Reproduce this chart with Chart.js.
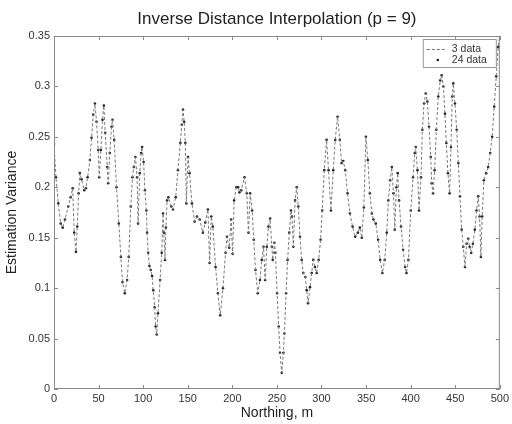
<!DOCTYPE html>
<html>
<head>
<meta charset="utf-8">
<script src="https://cdn.jsdelivr.net/npm/chart.js@4/dist/chart.umd.min.js"></script>
<style>
  html, body { margin: 0; padding: 0; background: #fff; }
  #wrap { width: 512px; height: 424px; }
</style>
</head>
<body>
<div id="wrap"><canvas id="chart" width="512" height="424"></canvas></div>
<script>
// both series overlap on one curve
const northing = [
  0, 2.2, 4.8, 7.5, 9.7, 12.3, 16, 18.6, 20.9, 22.7, 24.6, 26.1, 27.6, 29, 30.9, 33.9, 35.8, 37.7,
  40.3, 42.1, 44, 45.9, 47.7, 49.6, 50.7, 52.6, 54.4, 55.9, 57.4, 59.7, 60.8, 62.6, 64.5, 65.6,
  67.5, 70.1, 72.7, 75, 76.8, 79.4, 82, 83.8, 86.1, 88, 89.5, 91.3, 93.2, 94.3, 96.2, 97.7, 98.8,
  100.5, 102, 103.6, 104.4, 105.6, 107, 108.5, 110, 111.3, 112.9, 114, 115.2, 116.6, 119, 120.8,
  122.3, 123.3, 124.5, 125.5, 126.8, 128.3, 131.6, 133.5, 136.5, 139, 141.7, 143.3, 144.7, 146,
  147.3, 148.4, 150.3, 152, 154.7, 157.7, 160.4, 163.4, 167, 169.6, 172.6, 174.5, 176.4, 178.2,
  181.2, 183.8, 186.4, 189.5, 192.4, 194, 196.5, 198.7, 200.3, 202, 204.5, 206.5, 208, 210, 213.6,
  216.2, 218.1, 220, 222.2, 224, 226, 228.5, 231, 233, 235, 236.8, 238.7, 240.5, 242.4, 244.3,
  245.3, 247.2, 248.3, 250.2, 252, 253.5, 255.4, 257.3, 258.4, 260.3, 262, 263.9, 265.8, 266.9,
  268.5, 270.4, 272.2, 274, 275.9, 277.8, 279.6, 281.9, 283.4, 284.9, 287.1, 289, 290.8, 292.7,
  294.6, 296.8, 299, 300.8, 303.1, 305.7, 307.9, 310.6, 313.2, 315.4, 318, 320.6, 322.5, 324.4,
  326.6, 329.2, 331.9, 334.9, 337.8, 340.8, 343, 345.2, 347.5, 349.8, 352, 354.2, 356.5, 358.3,
  360.9, 363.5, 365.8, 368.3, 370.9, 373.2, 375, 377, 378.9, 380.7, 382.2, 384, 385.5, 387, 389.2,
  391.5, 393.8, 395.3, 397.5, 400.1, 402.7, 404.6, 405.7, 407.6, 409.4, 411.6, 413.1, 415, 416.9,
  418.7, 420.6, 422.5, 423.6, 425.1, 426.9, 428.8, 431, 433.2, 434.8, 436.7, 438.5, 440, 441.8,
  443.7, 445.2, 446.7, 447.8, 449.7, 451.6, 453.5, 455.3, 457.2, 459, 460.9, 462.7, 464.6, 466.1,
  467.9, 469.8, 472, 473.9, 475.8, 477.3, 478.8, 480.2, 482.1, 484.7, 486.9, 489.2, 491.4, 493.7,
  496, 498.1, 500
];
const variance = [
  0.243, 0.21, 0.184, 0.164, 0.16, 0.168, 0.181, 0.19, 0.199, 0.155, 0.136, 0.161, 0.194, 0.214, 0.208, 0.197, 0.199, 0.21,
  0.227, 0.249, 0.272, 0.283, 0.265, 0.237, 0.21, 0.237, 0.267, 0.281, 0.254, 0.22, 0.204, 0.234, 0.26, 0.267,
  0.247, 0.2, 0.164, 0.131, 0.106, 0.095, 0.108, 0.131, 0.181, 0.21, 0.22, 0.23, 0.21, 0.164, 0.214, 0.234, 0.24,
  0.225, 0.197, 0.177, 0.155, 0.135, 0.122, 0.118, 0.112, 0.098, 0.081, 0.062, 0.054, 0.075, 0.108, 0.135,
  0.174, 0.155, 0.128, 0.16, 0.187, 0.19, 0.181, 0.178, 0.19, 0.217, 0.244, 0.262, 0.277, 0.265,
  0.244, 0.184, 0.23, 0.214, 0.184, 0.166, 0.171, 0.168, 0.155, 0.165, 0.178, 0.125, 0.171, 0.161,
  0.121, 0.095, 0.073, 0.1, 0.135, 0.151, 0.14, 0.168, 0.134, 0.187, 0.2, 0.2, 0.195, 0.197, 0.21,
  0.194, 0.155, 0.194, 0.177, 0.148, 0.118, 0.095, 0.108, 0.128, 0.141, 0.108, 0.141, 0.161, 0.169, 0.141,
  0.128, 0.145, 0.135, 0.095, 0.062, 0.036, 0.016, 0.036, 0.055, 0.095, 0.128, 0.155, 0.177, 0.171,
  0.141, 0.187, 0.2, 0.181, 0.151, 0.128, 0.115, 0.111, 0.098, 0.085, 0.101, 0.115, 0.128, 0.121,
  0.115, 0.128, 0.148, 0.177, 0.217, 0.247, 0.217, 0.177, 0.217, 0.247, 0.27, 0.247, 0.224, 0.226,
  0.217, 0.194, 0.174, 0.161, 0.151, 0.155, 0.16, 0.15, 0.18, 0.25, 0.227, 0.194, 0.174, 0.168,
  0.164, 0.148, 0.128, 0.115, 0.128, 0.155, 0.187, 0.207, 0.22, 0.194, 0.158, 0.2, 0.214, 0.187, 0.161,
  0.138, 0.121, 0.115, 0.128, 0.177, 0.21, 0.234, 0.24, 0.217, 0.177, 0.21, 0.257, 0.283, 0.293,
  0.285, 0.26, 0.23, 0.204, 0.194, 0.217, 0.257, 0.29, 0.306, 0.311, 0.3, 0.273, 0.244, 0.214,
  0.194, 0.24, 0.29, 0.303, 0.283, 0.257, 0.224, 0.191, 0.158, 0.141, 0.121, 0.144, 0.149, 0.141,
  0.135, 0.144, 0.158, 0.177, 0.191, 0.171, 0.131, 0.171, 0.207, 0.214, 0.22, 0.234, 0.25, 0.28,
  0.31, 0.339, 0.35
];
const xTicks = [0, 50, 100, 150, 200, 250, 300, 350, 400, 450, 500];
const yTicks = [0, 0.05, 0.1, 0.15, 0.2, 0.25, 0.3, 0.35];
const seriesNames = ["3 data", "24 data"];

const points = northing.map((x, i) => ({ x: x, y: variance[i] }));
const FONT = "'Liberation Sans', Arial, sans-serif";
const AXIS = "#8a8a8a";

// MATLAB style box, inward ticks and legend
const frame = {
    id: "frame",
    afterDraw(chart) {
        const c = chart.ctx;
        const a = chart.chartArea;
        const xs = chart.scales.x, ys = chart.scales.y;
        c.save();
        c.strokeStyle = AXIS;
        c.lineWidth = 1;
        c.strokeRect(a.left + 0.5, a.top + 0.5, a.right - a.left - 1, a.bottom - a.top - 1);
        c.beginPath();
        xTicks.forEach(v => {
            const p = Math.round(xs.getPixelForValue(v)) + 0.5;
            c.moveTo(p, a.bottom); c.lineTo(p, a.bottom - 4);
            c.moveTo(p, a.top); c.lineTo(p, a.top + 4);
        });
        yTicks.forEach(v => {
            const p = Math.round(ys.getPixelForValue(v)) + 0.5;
            c.moveTo(a.left, p); c.lineTo(a.left + 4, p);
            c.moveTo(a.right, p); c.lineTo(a.right - 4, p);
        });
        c.stroke();

        // legend box
        const lx = a.right - 77, ly = a.top + 3, lw = 73, lh = 28;
        c.fillStyle = "#fff";
        c.fillRect(lx, ly, lw, lh);
        c.strokeStyle = "#999";
        c.strokeRect(lx + 0.5, ly + 0.5, lw, lh);
        c.strokeStyle = "#777";
        c.setLineDash([3, 2]);
        c.beginPath();
        c.moveTo(lx + 4, ly + 10.5); c.lineTo(lx + 24, ly + 10.5);
        c.stroke();
        c.setLineDash([]);
        c.fillStyle = "#222";
        c.beginPath();
        c.arc(lx + 15, ly + 21, 1.3, 0, Math.PI * 2);
        c.fill();
        c.font = "10.5px " + FONT;
        c.textBaseline = "middle";
        c.fillStyle = "#333";
        c.fillText(seriesNames[0], lx + 29, ly + 10);
        c.fillText(seriesNames[1], lx + 29, ly + 21);
        c.restore();
    }
};

new Chart(document.getElementById("chart"), {
    type: "scatter",
    data: {
        datasets: [
            {
                label: seriesNames[0],
                data: points,
                showLine: true,
                borderColor: "#7a7a7a",
                borderWidth: 1,
                borderDash: [3, 2],
                pointRadius: 0,
                tension: 0
            },
            {
                label: seriesNames[1],
                data: points,
                showLine: false,
                pointRadius: 1.3,
                pointBackgroundColor: "#222",
                pointBorderWidth: 0
            }
        ]
    },
    options: {
        responsive: false,
        animation: false,
        layout: { padding: { left: 0, right: 11, top: 0, bottom: 0 } },
        plugins: {
            legend: { display: false },
            tooltip: { enabled: false },
            title: {
                display: true,
                fullSize: false,
                text: "Inverse Distance Interpolation (p = 9)",
                color: "#222",
                font: { family: FONT, size: 17, weight: "normal" },
                padding: { top: 9, bottom: 6.6 }
            }
        },
        scales: {
            x: {
                type: "linear",
                min: 0, max: 500,
                afterBuildTicks: s => { s.ticks = xTicks.map(v => ({ value: v })); },
                afterFit: s => { s.height = 35; },
                grid: { drawOnChartArea: false, drawTicks: false },
                border: { display: false },
                ticks: { color: "#333", font: { family: FONT, size: 11 }, padding: 3, maxRotation: 0 },
                title: { display: true, text: "Northing, m", color: "#222", font: { family: FONT, size: 14 }, padding: { top: 0, bottom: 2 } }
            },
            y: {
                min: 0, max: 0.35,
                afterBuildTicks: s => { s.ticks = yTicks.map(v => ({ value: v })); },
                afterFit: s => { s.width = 54; },
                grid: { drawOnChartArea: false, drawTicks: false },
                border: { display: false },
                ticks: {
                    color: "#333", font: { family: FONT, size: 11 }, padding: 4,
                    callback: v => String(+v.toFixed(2))
                },
                title: { display: true, text: "Estimation Variance", color: "#222", font: { family: FONT, size: 14 }, padding: { top: 4, bottom: 2 } }
            }
        }
    },
    plugins: [frame]
});
</script>
</body>
</html>
